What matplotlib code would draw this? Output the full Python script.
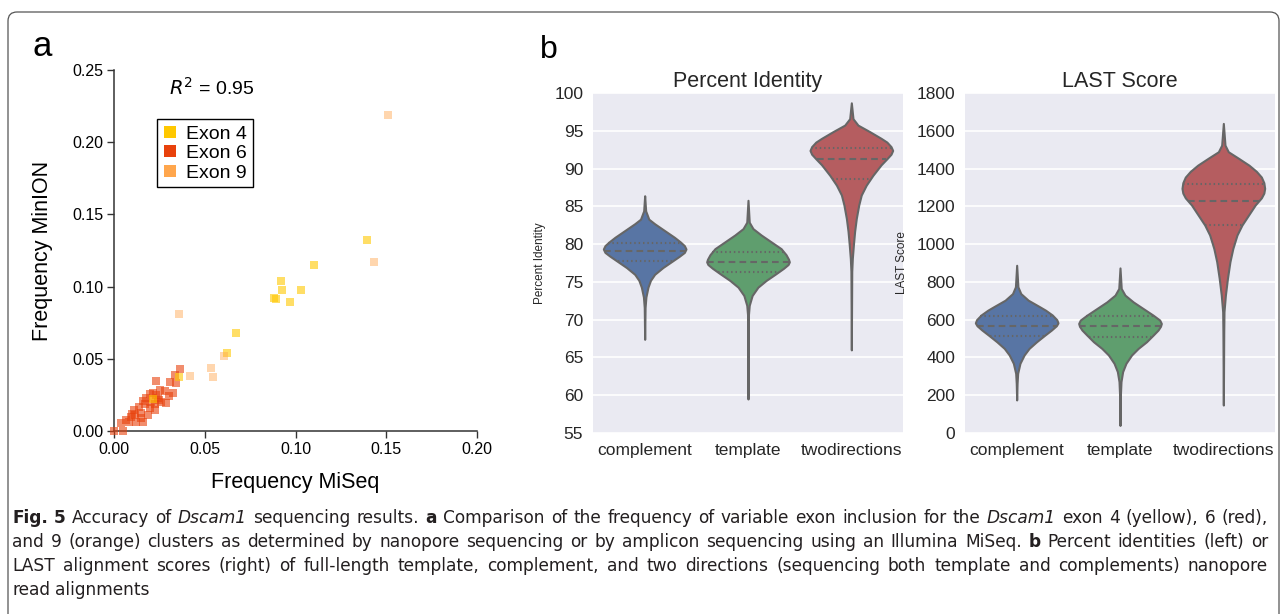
import numpy as np
import matplotlib
matplotlib.use("Agg")
import matplotlib.pyplot as plt
from matplotlib import font_manager
from matplotlib.lines import Line2D
from matplotlib.patches import FancyBboxPatch
from matplotlib.transforms import IdentityTransform

# ---- panel a: exon inclusion frequency, MiSeq (x) vs MinION (y)
exon4_miseq = [0.1395, 0.110, 0.092, 0.0927, 0.1032, 0.0878, 0.0894, 0.0971, 0.0673, 0.0622, 0.0357, 0.0212]
exon4_minion = [0.1323, 0.1147, 0.1036, 0.0976, 0.0976, 0.0923, 0.0912, 0.0896, 0.0676, 0.0538, 0.0376, 0.0222]

exon6_miseq = [0.000, 0.005, 0.0039, 0.0066, 0.009, 0.0112, 0.011, 0.0149, 0.0158, 0.0134,
               0.0171, 0.0195, 0.0204, 0.0232, 0.0228, 0.025, 0.026, 0.0287, 0.030, 0.0324,
               0.0305, 0.0342, 0.036, 0.0177, 0.0223, 0.012, 0.008, 0.0278, 0.024, 0.0186,
               0.0149, 0.0097, 0.0333, 0.0215, 0.0195, 0.0225, 0.0160, 0.0245]
exon6_minion = [0.000, 0.000, 0.0053, 0.0077, 0.010, 0.011, 0.0146, 0.0123, 0.0065, 0.0169,
                0.0186, 0.0162, 0.0204, 0.025, 0.0344, 0.0285, 0.0204, 0.0193, 0.024, 0.0262,
                0.034, 0.0332, 0.0432, 0.0227, 0.0146, 0.0065, 0.0065, 0.0274, 0.023, 0.0111,
                0.0088, 0.0116, 0.039, 0.0265, 0.0255, 0.0185, 0.0205, 0.0215]

exon9_miseq = [0.151, 0.143, 0.0355, 0.0418, 0.0535, 0.0543, 0.0607]
exon9_minion = [0.219, 0.117, 0.081, 0.0383, 0.0439, 0.0376, 0.0522]

exon_labels = ["Exon 4", "Exon 6", "Exon 9"]
exon_colors = ["#FFC800", "#E8410C", "#FFA64D"]

# ---- panel b: violin outlines
# value along the axis, relative half-width (1 = widest part)
categories = ["complement", "template", "twodirections"]
violin_colors = ["#5875A4", "#5F9E6E", "#B55D60"]

pi_comp_y = [67.4, 71.6, 73.0, 74.3, 75.2, 76.0, 76.9, 77.8, 78.4, 78.9, 79.35, 79.8, 80.3, 80.9, 81.8, 82.7, 83.3, 84.4, 86.4]
pi_comp_w = [0, 0.01, 0.03, 0.08, 0.14, 0.24, 0.44, 0.68, 0.84, 0.96, 1.0, 0.96, 0.86, 0.72, 0.48, 0.24, 0.1, 0.024, 0]
pi_temp_y = [59.5, 70.6, 71.9, 73.2, 74.3, 75.2, 76.1, 76.8, 77.3, 77.65, 78.0, 78.6, 79.4, 80.3, 81.2, 82.05, 82.9, 85.8]
pi_temp_w = [0, 0.01, 0.03, 0.1, 0.24, 0.44, 0.68, 0.86, 0.97, 1.0, 0.98, 0.92, 0.8, 0.56, 0.32, 0.12, 0.03, 0]
pi_two_y = [66.0, 76.4, 78.1, 79.9, 81.7, 83.4, 85.2, 86.5, 87.8, 89.1, 90.5, 91.3, 91.9, 92.4, 92.9, 93.5, 94.0, 94.9, 95.75, 96.6, 98.7]
pi_two_w = [0, 0.01, 0.024, 0.05, 0.08, 0.12, 0.18, 0.24, 0.36, 0.52, 0.72, 0.86, 0.96, 1.0, 0.96, 0.86, 0.72, 0.44, 0.16, 0.04, 0]

last_comp_y = [175, 263, 316, 369, 413, 448, 483, 518, 545, 568, 583, 600, 625, 650, 668, 703, 738, 774, 888]
last_comp_w = [0, 0.01, 0.024, 0.08, 0.18, 0.3, 0.48, 0.68, 0.84, 0.96, 1.0, 0.97, 0.86, 0.7, 0.56, 0.28, 0.1, 0.03, 0]
last_temp_y = [40, 202, 272, 325, 369, 413, 448, 483, 518, 545, 565, 580, 598, 624, 659, 694, 730, 765, 874]
last_temp_w = [0, 0.01, 0.024, 0.064, 0.144, 0.28, 0.44, 0.64, 0.8, 0.92, 0.98, 1.0, 0.96, 0.8, 0.56, 0.32, 0.12, 0.03, 0]
last_two_y = [148, 536, 642, 730, 819, 907, 977, 1048, 1101, 1154, 1207, 1245, 1270, 1295, 1325, 1355, 1385, 1418, 1454, 1489, 1524, 1639]
last_two_w = [0, 0.01, 0.016, 0.05, 0.1, 0.16, 0.23, 0.33, 0.45, 0.61, 0.77, 0.92, 0.98, 1.0, 0.98, 0.92, 0.8, 0.62, 0.37, 0.12, 0.04, 0]

# lower quartile, median, upper quartile
pi_quartiles = [[77.7, 79.1, 80.2], [76.3, 77.6, 78.9], [88.6, 91.2, 92.75]]
last_quartiles = [[513, 568, 619], [508, 566, 619], [1099, 1228, 1318]]

caption_lines = [
    "*Fig.* *5* Accuracy of _Dscam1_ sequencing results. *a* Comparison of the frequency of variable exon inclusion for the _Dscam1_ exon 4 (yellow), 6 (red),",
    "and 9 (orange) clusters as determined by nanopore sequencing or by amplicon sequencing using an Illumina MiSeq. *b* Percent identities (left) or",
    "LAST alignment scores (right) of full-length template, complement, and two directions (sequencing both template and complements) nanopore",
    "read alignments",
]

W, H = 1281, 614
plt.rcParams["font.family"] = ["Liberation Sans", "DejaVu Sans"]

fig = plt.figure(figsize=(W / 100, H / 100), dpi=100)


def px_rect(x0, y0, x1, y1):
    return [x0 / W, 1 - y1 / H, (x1 - x0) / W, (y1 - y0) / H]


# outer frame
fig.patches.append(FancyBboxPatch((8, -20), 1271, 622, boxstyle="round,pad=0,rounding_size=9",
                                  transform=IdentityTransform(), facecolor="none",
                                  edgecolor="#555555", lw=0.9))

# ---------------- panel a
ax = fig.add_axes(px_rect(114.3, 70, 477, 431))
for xs, ys, c, a in [(exon6_miseq, exon6_minion, exon_colors[1], 0.6),
                     (exon4_miseq, exon4_minion, exon_colors[0], 0.6),
                     (exon9_miseq, exon9_minion, exon_colors[2], 0.45)]:
    ax.scatter(xs, ys, s=38, marker="s", color=c, alpha=a, linewidths=0, clip_on=False, zorder=3)

ax.set_xlim(0, 0.2)
ax.set_ylim(0, 0.25)
ax.set_xticks([0, 0.05, 0.10, 0.15, 0.20])
ax.set_yticks([0, 0.05, 0.10, 0.15, 0.20, 0.25])
ax.xaxis.set_major_formatter("{x:.2f}")
ax.yaxis.set_major_formatter("{x:.2f}")
for s in ["top", "right"]:
    ax.spines[s].set_visible(False)
for s in ["left", "bottom"]:
    ax.spines[s].set_color("#333333")
    ax.spines[s].set_linewidth(1.1)
ax.tick_params(length=5, width=1, color="#333333", labelsize=11.5, pad=3)
ax.set_xlabel("Frequency MiSeq", fontsize=15.5, labelpad=11)
ax.set_ylabel("Frequency MinION", fontsize=15.5, labelpad=14)
ax.text(0.030, 0.2375, "$R^2$ = 0.95", fontsize=14, va="center", ha="left")

handles = [Line2D([], [], ls="", marker="s", markersize=9, color=c, markeredgewidth=0) for c in exon_colors]
leg = ax.legend(handles, exon_labels, loc="upper left", bbox_to_anchor=(0.118, 0.864), borderaxespad=0,
                fontsize=14, frameon=True, fancybox=False, edgecolor="black", framealpha=1,
                borderpad=0.3, labelspacing=0.1, handlelength=0.7, handletextpad=0.5)
leg.get_frame().set_linewidth(1.0)

fig.text(33 / W, 1 - 56 / H, "a", fontsize=25, va="baseline", ha="left")
fig.text(540 / W, 1 - 58 / H, "b", fontsize=23, va="baseline", ha="left")


# ---------------- panel b
def violins(ax, profiles, quartiles, ylim, yticks, title, ylabel):
    ax.set_facecolor("#EAEAF2")
    for i, ((ys, ws), q) in enumerate(zip(profiles, quartiles)):
        ys = np.asarray(ys, float)
        half = 0.4 * np.asarray(ws, float)
        ax.fill_betweenx(ys, i - half, i + half, facecolor=violin_colors[i],
                         edgecolor="#666666", lw=1.5, zorder=2)
        for k, val in enumerate(q):
            hw = 0.4 * np.interp(val, ys, ws)
            style = (0, (3.2, 2.0)) if k == 1 else (0, (0.7, 1.4))
            ax.plot([i - hw, i + hw], [val, val], color="#666666", lw=1.5, ls=style, zorder=3)
    ax.set_xlim(-0.5, 2.5)
    ax.set_ylim(*ylim)
    ax.set_yticks(yticks)
    ax.set_xticks(range(len(categories)))
    ax.set_xticklabels(categories)
    ax.grid(axis="y", color="white", lw=1.2)
    ax.set_axisbelow(True)
    for s in ax.spines.values():
        s.set_visible(False)
    ax.tick_params(length=0, labelsize=12.5, labelcolor="#262626", pad=7)
    ax.set_title(title, fontsize=15.5, color="#262626", pad=4)
    ax.set_ylabel(ylabel, fontsize=8.5, color="#262626", labelpad=6)


ax_pi = fig.add_axes(px_rect(593, 93, 903, 433))
violins(ax_pi, [(pi_comp_y, pi_comp_w), (pi_temp_y, pi_temp_w), (pi_two_y, pi_two_w)],
        pi_quartiles, (55, 100), range(55, 101, 5), "Percent Identity", "Percent Identity")

ax_ls = fig.add_axes(px_rect(965, 93, 1275, 433))
violins(ax_ls, [(last_comp_y, last_comp_w), (last_temp_y, last_temp_w), (last_two_y, last_two_w)],
        last_quartiles, (0, 1800), range(0, 1801, 200), "LAST Score", "LAST Score")


# ---------------- caption (justified, mixed styles)
names = {f.name for f in font_manager.fontManager.ttflist}
cap_family = "Liberation Sans Narrow" if "Liberation Sans Narrow" in names else "DejaVu Sans"
renderer = fig.canvas.get_renderer()


def parse(line):
    out = []
    for w in line.split(" "):
        if w.startswith("*") and w.endswith("*"):
            out.append((w[1:-1], "b"))
        elif w.startswith("_"):
            core = w[1:].split("_")
            out.append((core[0], "i"))
            if core[1]:
                out.append(("+" + core[1], "n"))
        else:
            out.append((w, "n"))
    return out


def make_text(word, style, size):
    return fig.text(0, 0, word, fontsize=size, family=cap_family, color="#231F20",
                    fontweight="bold" if style == "b" else "normal",
                    fontstyle="italic" if style == "i" else "normal", va="baseline")


def width(t):
    return t.get_window_extent(renderer).width


# fit font size so the first line nearly fills the frame width
x_left, x_right = 12, 1268
probe = fig.text(0, 0, caption_lines[0].replace("*", "").replace("_", ""), fontsize=10, family=cap_family)
nat = width(probe)
probe.remove()
cap_size = min(12.5, 10 * (x_right - x_left) * 0.985 / nat)
sp = fig.text(0, 0, "a a", fontsize=cap_size, family=cap_family)
sp2 = fig.text(0, 0, "aa", fontsize=cap_size, family=cap_family)
space = width(sp) - width(sp2)
sp.remove()
sp2.remove()

baselines = [523, 547, 571, 595]
for li, line in enumerate(caption_lines):
    tokens = parse(line)
    arts = []
    for word, style in tokens:
        glue = word.startswith("+")
        t = make_text(word.lstrip("+"), style, cap_size)
        arts.append((t, width(t), glue))
    n_gaps = sum(1 for a in arts[1:] if not a[2])
    total = sum(a[1] for a in arts)
    last = li == len(caption_lines) - 1
    gap = space if last or n_gaps == 0 else (x_right - x_left - total) / n_gaps
    x = x_left
    for j, (t, w, glue) in enumerate(arts):
        if j > 0 and not glue:
            x += gap
        t.set_position((x / W, 1 - baselines[li] / H))
        x += w

fig.savefig("out.png", dpi=100)
